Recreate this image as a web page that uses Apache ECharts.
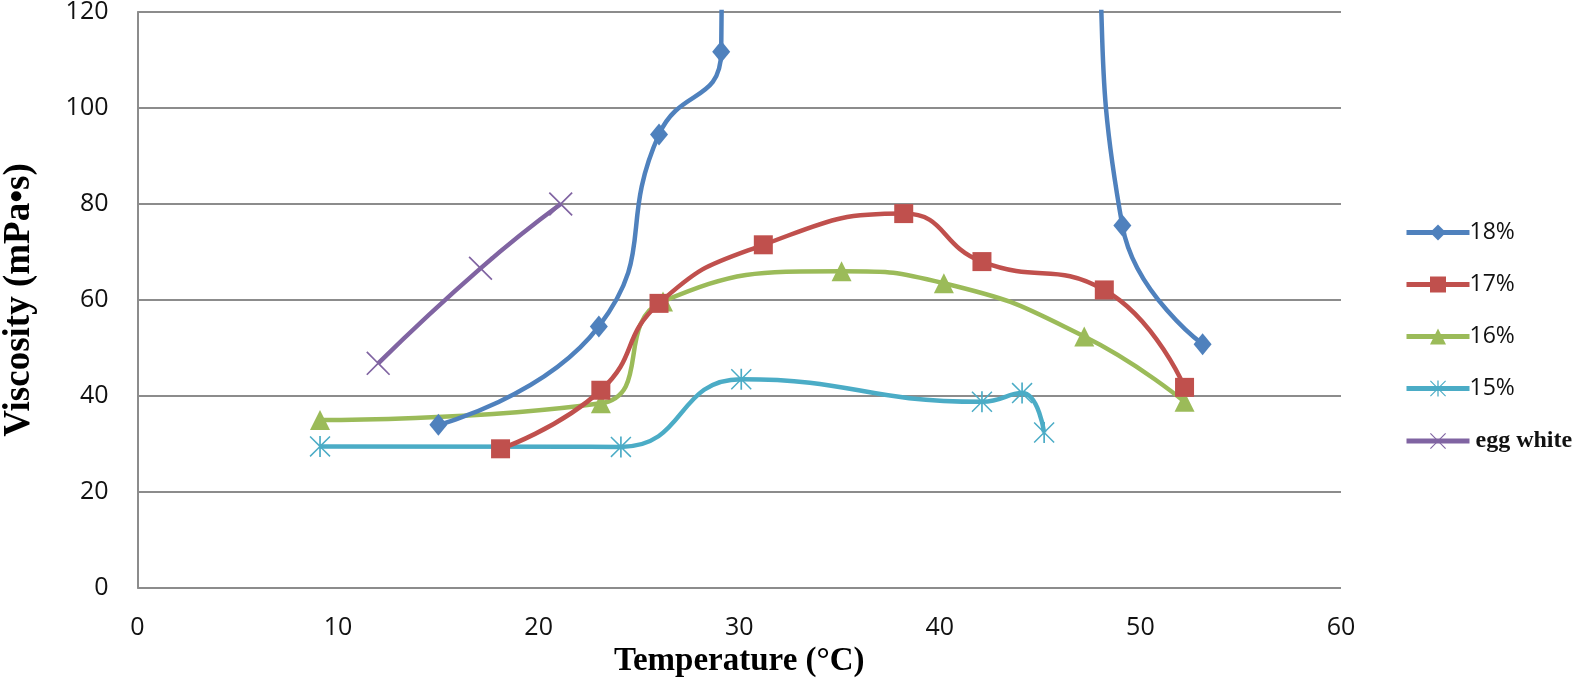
<!DOCTYPE html>
<html>
<head>
<meta charset="utf-8">
<script src="https://cdn.jsdelivr.net/npm/echarts@6/dist/echarts.min.js"></script>
<style>html,body{margin:0;padding:0;background:#fff}#c{width:1594px;height:686px}</style>
</head>
<body>
<div id="c"></div>
<script>
// [temperature, viscosity]
const s18 = [[15,34],[23,54.5],[26,94.5],[29.1,111.7],[30,900],[47.6,150],[49.1,75.5],[53.1,50.8]];
const s17 = [[18.1,29],[23.1,41.2],[26,59.3],[31.2,71.5],[38.2,78],[42.1,68],[48.2,62.1],[52.2,41.8]];
const s16 = [[9.1,35],[23.1,38.5],[26.2,59.7],[35.1,66],[40.2,63.5],[47.2,52.4],[52.2,38.8]];
const s15 = [[9.1,29.5],[24.1,29.4],[30.1,43.5],[42.1,38.8],[44.1,40.6],[45.2,32.4]];
const sEgg = [[12,46.8],[17.1,66.6],[21.1,80]];
const seriesNames = ['18%','17%','16%','15%','egg white'];
const xTicks = [0,10,20,30,40,50,60];
const yTicks = [0,20,40,60,80,100,120];

const colors = ['#4F81BD','#C0504D','#9BBB59','#4BACC6','#8064A2'];
const xPath = 'path://M0,1 L1,0 L10,9 L19,0 L20,1 L11,10 L20,19 L19,20 L10,11 L1,20 L0,19 L9,10 Z';
const starPath = 'path://M0,1 L1,0 L10,9 L19,0 L20,1 L11,10 L20,19 L19,20 L10,11 L1,20 L0,19 L9,10 Z M9.2,0 L10.8,0 L10.8,20 L9.2,20 Z';
const symbols = ['diamond','rect','triangle',starPath,xPath];
const symSizes = [[18,22],19,20,21,24];
const datas = [s18,s17,s16,s15,sEgg];

const chart = echarts.init(document.getElementById('c'));
chart.setOption({
  animation:false,
  color: colors,
  grid:{left:137.5,right:253,top:12,bottom:98,containLabel:false,outerBoundsMode:'none'},
  legend:{
    orient:'vertical', left:1399, top:216, itemGap:29, itemWidth:63, itemHeight:20,
    data: seriesNames,
    lineStyle:{width:5},
    formatter: n => n==='egg white' ? '{e| egg white}' : n,
    textStyle:{fontFamily:'Open Sans', fontSize:23, color:'#111', padding:[0,0,0,-5],
      rich:{e:{fontFamily:'Liberation Serif', fontSize:24, fontWeight:'bold', color:'#111'}}}
  },
  xAxis:{
    type:'value', min:xTicks[0], max:xTicks[xTicks.length-1], interval:10,
    name:'Temperature (°C)', nameLocation:'middle', nameGap:54,
    nameTextStyle:{fontFamily:'Liberation Serif', fontWeight:'bold', fontSize:33, color:'#000'},
    axisLine:{show:false}, axisTick:{show:false},
    splitLine:{show:false},
    axisLabel:{fontFamily:'Open Sans', fontSize:25, color:'#111', margin:27}
  },
  yAxis:{
    type:'value', min:yTicks[0], max:yTicks[yTicks.length-1], interval:20,
    name:'Viscosity (mPa•s)', nameLocation:'middle', nameGap:100,
    nameTextStyle:{fontFamily:'Liberation Serif', fontWeight:'bold', fontSize:37, color:'#000'},
    axisLine:{show:true, lineStyle:{color:'#8c8c8c', width:2}}, axisTick:{show:false},
    splitLine:{show:true, lineStyle:{color:'#8c8c8c', width:2}},
    axisLabel:{fontFamily:'Open Sans', fontSize:25, color:'#111', margin:29}
  },
  series: datas.map((d,i)=>({
    name: seriesNames[i], type:'line', data:d, smooth:0.5, clip:true,
    symbol: symbols[i], symbolSize: symSizes[i],
    lineStyle:{width:4.5, color:colors[i]},
    itemStyle:{color:colors[i]},
    z: 10-i
  }))
});
</script>
</body>
</html>
